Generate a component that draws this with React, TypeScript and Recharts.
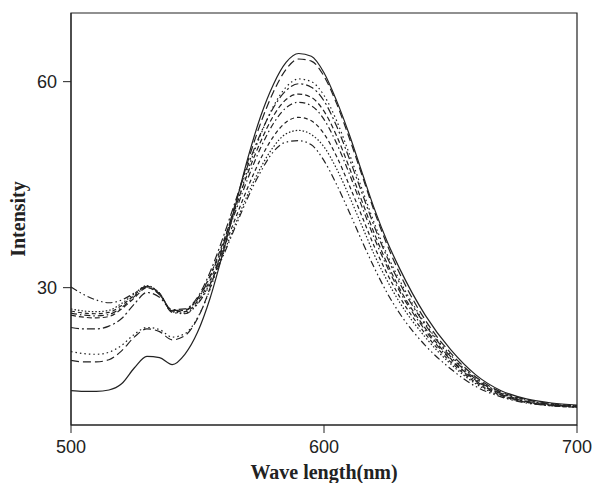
import React from "react";
import {
  LineChart,
  Line,
  XAxis,
  YAxis,
  ReferenceArea,
} from "recharts";

// wavelength grid (nm)
const wavelengths = [
  500, 505, 510, 515, 520, 525, 530, 535, 540, 545, 550, 555, 560, 565, 570,
  575, 580, 585, 590, 595, 600, 605, 610, 615, 620, 625, 630, 640, 650, 660,
  670, 680, 690, 700,
];

// emission spectra, ordered from highest to lowest peak
const curve1 = [15.0, 14.9, 14.9, 15.1, 16.0, 18.3, 20.0, 19.8, 18.8, 20.3, 23.5, 28.5, 35.0, 42.0, 49.0, 55.0, 59.6, 62.8, 64.1, 63.7, 61.3, 57.2, 52.3, 46.8, 41.4, 36.7, 32.7, 26.0, 21.0, 17.3, 15.0, 13.8, 13.2, 12.9];
const curve2 = [19.4, 19.2, 19.2, 19.5, 20.8, 22.8, 24.0, 23.6, 22.4, 23.0, 25.5, 30.0, 36.0, 42.3, 48.5, 54.0, 58.5, 61.8, 63.3, 63.0, 60.8, 56.8, 51.8, 46.4, 41.0, 36.2, 32.0, 25.3, 20.5, 17.0, 14.8, 13.7, 13.1, 12.8];
const curve3 = [20.7, 20.4, 20.3, 20.6, 21.6, 23.2, 24.2, 23.9, 22.8, 23.3, 25.6, 29.8, 35.5, 41.5, 47.3, 52.3, 56.4, 59.2, 60.4, 60.0, 58.0, 54.3, 49.5, 44.4, 39.3, 34.8, 31.0, 24.8, 20.2, 16.8, 14.7, 13.6, 13.0, 12.8];
const curve4 = [24.2, 24.0, 24.0, 24.4, 25.5, 27.6, 29.3, 28.6, 26.8, 26.9, 28.6, 32.3, 37.2, 42.6, 47.9, 52.5, 56.2, 58.7, 59.7, 59.2, 57.2, 53.5, 48.8, 43.8, 38.8, 34.4, 30.6, 24.6, 20.0, 16.7, 14.6, 13.5, 13.0, 12.7];
const curve5 = [26.0, 25.7, 25.6, 25.8, 26.9, 28.5, 30.0, 29.0, 26.6, 26.7, 28.4, 31.8, 36.5, 41.7, 46.8, 51.3, 55.0, 57.4, 58.2, 57.7, 55.7, 52.1, 47.5, 42.6, 37.8, 33.5, 29.8, 24.1, 19.7, 16.5, 14.5, 13.4, 12.9, 12.7];
const curve6 = [26.3, 26.0, 25.9, 26.1, 27.1, 28.7, 30.1, 29.1, 26.7, 26.7, 28.3, 31.6, 36.1, 41.1, 46.0, 50.4, 53.9, 56.2, 57.0, 56.5, 54.5, 51.0, 46.6, 41.8, 37.1, 33.0, 29.4, 23.8, 19.5, 16.4, 14.4, 13.4, 12.9, 12.7];
const curve7 = [26.6, 26.3, 26.2, 26.4, 27.4, 28.9, 30.2, 29.2, 26.6, 26.5, 28.0, 31.1, 35.4, 40.1, 44.7, 48.8, 52.0, 54.1, 54.8, 54.3, 52.4, 49.1, 44.9, 40.4, 35.9, 32.0, 28.6, 23.3, 19.2, 16.2, 14.3, 13.3, 12.8, 12.6];
const curve8 = [26.9, 26.6, 26.5, 26.7, 27.7, 29.1, 30.3, 29.2, 26.5, 26.3, 27.7, 30.7, 34.8, 39.3, 43.7, 47.5, 50.5, 52.4, 52.9, 52.3, 50.5, 47.3, 43.3, 39.0, 34.7, 31.0, 27.8, 22.8, 18.9, 16.0, 14.2, 13.3, 12.8, 12.6];
const curve9 = [30.1, 29.0, 28.2, 27.8, 28.2, 29.2, 30.2, 29.0, 26.4, 26.2, 27.6, 30.5, 34.5, 38.9, 43.2, 46.9, 49.8, 51.2, 51.4, 50.8, 48.5, 45.0, 41.0, 36.8, 32.8, 29.2, 26.2, 21.6, 18.2, 15.6, 14.1, 13.2, 12.8, 12.6];

const xTicks = [500, 600, 700];
const yTicks = [30, 60];

const series = [
  { key: "c1", values: curve1, dash: undefined },
  { key: "c2", values: curve2, dash: "8 4" },
  { key: "c3", values: curve3, dash: "1.5 3" },
  { key: "c4", values: curve4, dash: "8 3 2 3" },
  { key: "c5", values: curve5, dash: "5 3" },
  { key: "c6", values: curve6, dash: "6 3 1.5 3" },
  { key: "c7", values: curve7, dash: "4 3" },
  { key: "c8", values: curve8, dash: "1.5 2" },
  { key: "c9", values: curve9, dash: "7 3 1.5 3 1.5 3" },
];

const data = wavelengths.map((w, i) => {
  const row: Record<string, number> = { w };
  series.forEach((s) => {
    row[s.key] = s.values[i];
  });
  return row;
});

const tickStyle = { fontFamily: "Liberation Sans, Arial, sans-serif", fontSize: 18, fill: "#222" };
const labelStyle = {
  fontFamily: "Liberation Serif, Times New Roman, serif",
  fontWeight: "bold" as const,
  fontSize: 20,
  fill: "#222",
  textAnchor: "middle" as const,
};

export default function App() {
  return (
    <div style={{ position: "absolute", left: 0, top: 0, width: 592, height: 483, background: "#fff" }}>
      <LineChart
        width={592}
        height={483}
        data={data}
        margin={{ top: 13, right: 15, bottom: 0, left: 0 }}
      >
        <XAxis
          dataKey="w"
          type="number"
          domain={[500, 700]}
          ticks={xTicks}
          height={58}
          stroke="#222"
          tickSize={8}
          tickMargin={7}
          tick={tickStyle}
          label={{ value: "Wave length(nm)", position: "insideBottom", offset: 4, style: labelStyle }}
        />
        <YAxis
          type="number"
          domain={[10, 70]}
          ticks={yTicks}
          width={71}
          stroke="#222"
          tickSize={8}
          tickMargin={6}
          tick={tickStyle}
          label={{ value: "Intensity", angle: -90, position: "insideLeft", offset: 18, style: labelStyle }}
        />
        <ReferenceArea x1={500} x2={700} y1={10} y2={70} fill="none" stroke="#222" strokeWidth={1.2} />
        {series.map((s) => (
          <Line
            key={s.key}
            type="monotone"
            dataKey={s.key}
            stroke="#222"
            strokeWidth={1.2}
            strokeDasharray={s.dash}
            dot={false}
            isAnimationActive={false}
          />
        ))}
      </LineChart>
    </div>
  );
}
